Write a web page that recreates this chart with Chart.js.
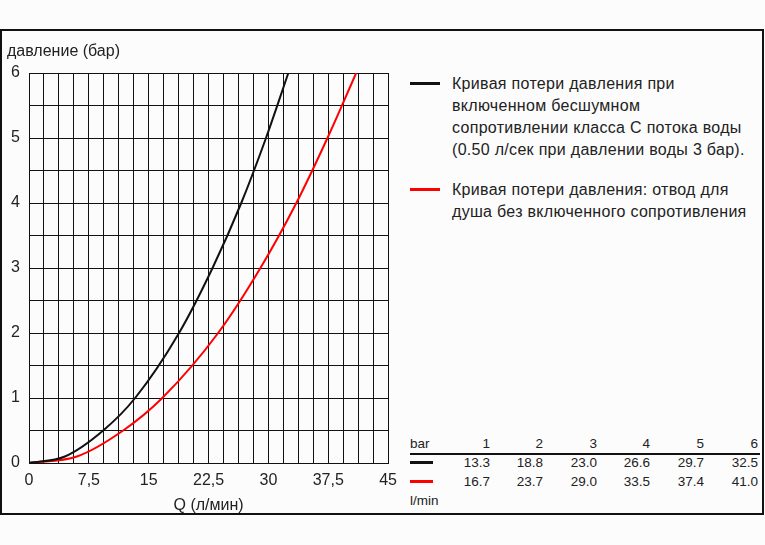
<!DOCTYPE html>
<html>
<head>
<meta charset="utf-8">
<script src="https://cdn.jsdelivr.net/npm/chart.js@4"></script>
<style>
  body { margin: 0; background: #fcfcfc; font-family: "Liberation Sans", Arial, sans-serif; color: #222; }
  #wrap { position: relative; width: 765px; height: 545px; }
  #frame { position: absolute; left: 0; top: 29px; width: 760px; height: 482px; border: 2px solid #111; }
  #chartBox { position: absolute; left: 0; top: 0; width: 405px; height: 545px; }
  .t { position: absolute; white-space: nowrap; }
  .dash { position: absolute; height: 3px; }
</style>
</head>
<body>
<div id="wrap">
  <div id="frame"></div>
  <div id="chartBox"><canvas id="c" width="405" height="545"></canvas></div>
  <div class="t" style="left:7px; top:42px; font-size:16px;">давление (бар)</div>
  <div id="legend"></div>
  <div id="table"></div>
</div>
<script>
// pressure / flow table (bar -> l/min)
const tablePressures = [1, 2, 3, 4, 5, 6];
const flowSilent = [13.3, 18.8, 23.0, 26.6, 29.7, 32.5];
const flowShower = [16.7, 23.7, 29.0, 33.5, 37.4, 41.0];
// low end of the curves
const lowPressures = [0, 0.1, 0.5];
const lowFlowSilent = [0, 4.5, 9.3];
const lowFlowShower = [0, 6.0, 11.8];

const legendLabels = [
    ["Кривая потери давления при", "включенном бесшумном", "сопротивлении класса С потока воды", "(0.50 л/сек при давлении воды 3 бар)."],
    ["Кривая потери давления: отвод для", "душа без включенного сопротивления"],
];
const seriesColors = ["#111", "#ff0000"];

function points(lowFlow, flow) {
    const pts = lowFlow.map((q, i) => ({ x: q, y: lowPressures[i] }));
    return pts.concat(flow.map((q, i) => ({ x: q, y: tablePressures[i] })));
}

// legend (html)
const legend = document.getElementById("legend");
const legendTops = [73, 179];
legendLabels.forEach((lines, k) => {
    const d = document.createElement("div");
    d.className = "dash";
    d.style.cssText = `left:410px; top:${legendTops[k] + 9}px; width:30px; background:${seriesColors[k]}`;
    legend.appendChild(d);
    const t = document.createElement("div");
    t.className = "t";
    t.style.cssText = `left:452px; top:${legendTops[k]}px; font-size:16px; line-height:22px; letter-spacing:0.3px;`;
    t.innerHTML = lines.join("<br>");
    legend.appendChild(t);
});

// value table (html)
const table = document.getElementById("table");
const colRight = [490, 543, 597, 650, 704, 758];
function cell(text, right, top) {
    const t = document.createElement("div");
    t.className = "t";
    t.style.cssText = `left:${right - 60}px; width:60px; text-align:right; top:${top}px; font-size:13.5px;`;
    t.textContent = text;
    table.appendChild(t);
}
const bar = document.createElement("div");
bar.className = "t";
bar.style.cssText = "left:410px; top:436px; font-size:13.5px;";
bar.textContent = "bar";
table.appendChild(bar);
tablePressures.forEach((p, i) => cell(String(p), colRight[i], 436));
const rule = document.createElement("div");
rule.style.cssText = "position:absolute; left:410px; top:453px; width:350px; height:2px; background:#111;";
table.appendChild(rule);
[flowSilent, flowShower].forEach((row, k) => {
    const top = 455 + k * 19;
    const d = document.createElement("div");
    d.className = "dash";
    d.style.cssText = `left:410px; top:${top + 6}px; width:23px; background:${seriesColors[k]}`;
    table.appendChild(d);
    row.forEach((v, i) => cell(v.toFixed(1), colRight[i], top));
});
const unit = document.createElement("div");
unit.className = "t";
unit.style.cssText = "left:410px; top:493px; font-size:13.5px;";
unit.textContent = "l/min";
table.appendChild(unit);

const ctx = document.getElementById("c").getContext("2d");
new Chart(ctx, {
    type: "scatter",
    data: {
        datasets: [
            { data: points(lowFlowSilent, flowSilent), borderColor: seriesColors[0] },
            { data: points(lowFlowShower, flowShower), borderColor: seriesColors[1] },
        ].map((d) => ({
            ...d,
            showLine: true,
            borderWidth: 2,
            pointRadius: 0,
            cubicInterpolationMode: "monotone",
        })),
    },
    options: {
        responsive: false,
        animation: false,
        layout: { padding: { top: 73, left: 0, right: 13, bottom: 30 } },
        plugins: { legend: { display: false }, tooltip: { enabled: false } },
        scales: {
            x: {
                type: "linear",
                min: 0,
                max: 45,
                afterFit: (s) => { s.height = 52; },
                ticks: {
                    stepSize: 1.875,
                    autoSkip: false,
                    maxRotation: 0,
                    padding: 8,
                    color: "#222",
                    font: { family: "Liberation Sans", size: 16 },
                    callback: (v) => {
                        const k = v / 7.5;
                        if (Math.abs(k - Math.round(k)) > 1e-6) return "";
                        return String(Math.round(k) * 7.5).replace(".", ",");
                    },
                },
                grid: { color: "#111", lineWidth: 1, drawTicks: false },
                border: { color: "#111", width: 1 },
                title: {
                    display: true,
                    text: "Q (л/мин)",
                    color: "#222",
                    font: { family: "Liberation Sans", size: 16 },
                    padding: { top: 2, bottom: 0 },
                },
            },
            y: {
                min: 0,
                max: 6,
                afterFit: (s) => { s.width = 29; },
                ticks: {
                    stepSize: 0.5,
                    padding: 9,
                    color: "#222",
                    font: { family: "Liberation Sans", size: 16 },
                    callback: (v) => (Number.isInteger(v) ? String(v) : ""),
                },
                grid: { color: "#111", lineWidth: 1, drawTicks: false },
                border: { color: "#111", width: 1 },
            },
        },
    },
});
</script>
</body>
</html>
